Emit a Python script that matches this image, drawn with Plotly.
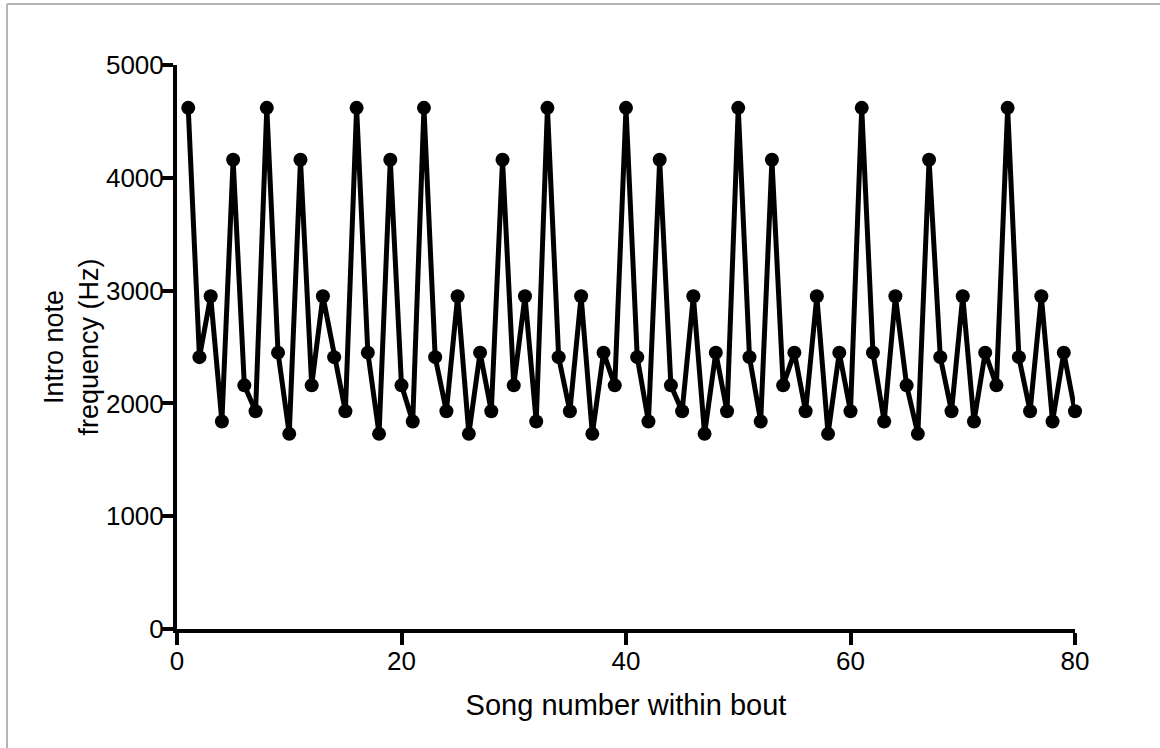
import plotly.graph_objects as go

song_number = list(range(1, 81))
intro_freq_hz = [
    4620, 2410, 2950, 1840, 4160, 2160, 1930, 4620, 2450, 1730,
    4160, 2160, 2950, 2410, 1930, 4620, 2450, 1730, 4160, 2160,
    1840, 4620, 2410, 1930, 2950, 1730, 2450, 1930, 4160, 2160,
    2950, 1840, 4620, 2410, 1930, 2950, 1730, 2450, 2160, 4620,
    2410, 1840, 4160, 2160, 1930, 2950, 1730, 2450, 1930, 4620,
    2410, 1840, 4160, 2160, 2450, 1930, 2950, 1730, 2450, 1930,
    4620, 2450, 1840, 2950, 2160, 1730, 4160, 2410, 1930, 2950,
    1840, 2450, 2160, 4620, 2410, 1930, 2950, 1840, 2450, 1930,
]
x_ticks = [0, 20, 40, 60, 80]
y_ticks = [0, 1000, 2000, 3000, 4000, 5000]

W, H = 1160, 748
L, R, T, B = 177, 85, 65, 119
pw, ph = W - L - R, H - T - B

def px(x):
    return (x - L) / pw

def py(y):
    return (H - B - y) / ph

FONT = "Liberation Sans, Arial, Helvetica, sans-serif"

fig = go.Figure()
fig.add_trace(go.Scatter(
    x=song_number, y=intro_freq_hz, mode="lines+markers",
    line=dict(color="black", width=5),
    marker=dict(color="black", size=14),
    cliponaxis=False, showlegend=False,
))

fig.update_layout(
    width=W, height=H,
    margin=dict(l=L, r=R, t=T, b=B),
    paper_bgcolor="white", plot_bgcolor="white",
    font=dict(family=FONT, color="black", size=26),
    xaxis=dict(
        range=[0, 80], tickvals=x_ticks, ticktext=[str(v) for v in x_ticks],
        showgrid=False, zeroline=False, showline=True, linecolor="black",
        linewidth=4, ticks="outside", ticklen=12, tickwidth=4, tickcolor="black",
        tickfont=dict(size=26), ticklabelstandoff=-6,
        title=dict(text="Song number within bout", font=dict(size=29), standoff=20),
    ),
    yaxis=dict(
        range=[0, 5000], tickvals=y_ticks, ticktext=[str(v) for v in y_ticks],
        showgrid=False, zeroline=False, showline=True, linecolor="black",
        linewidth=4, ticks="outside", ticklen=12, tickwidth=4, tickcolor="black",
        tickfont=dict(size=26), ticklabelstandoff=-8,
        title=dict(text="Intro note<br>frequency (Hz)", font=dict(size=27), standoff=0),
    ),
    shapes=[
        dict(type="line", xref="paper", yref="paper", x0=px(7), x1=px(W + 5),
             y0=py(4), y1=py(4), line=dict(color="#b4b4b4", width=2)),
        dict(type="line", xref="paper", yref="paper", x0=px(7), x1=px(7),
             y0=py(4), y1=py(H + 5), line=dict(color="#b4b4b4", width=2)),
    ],
)

fig.write_html("out.html")
